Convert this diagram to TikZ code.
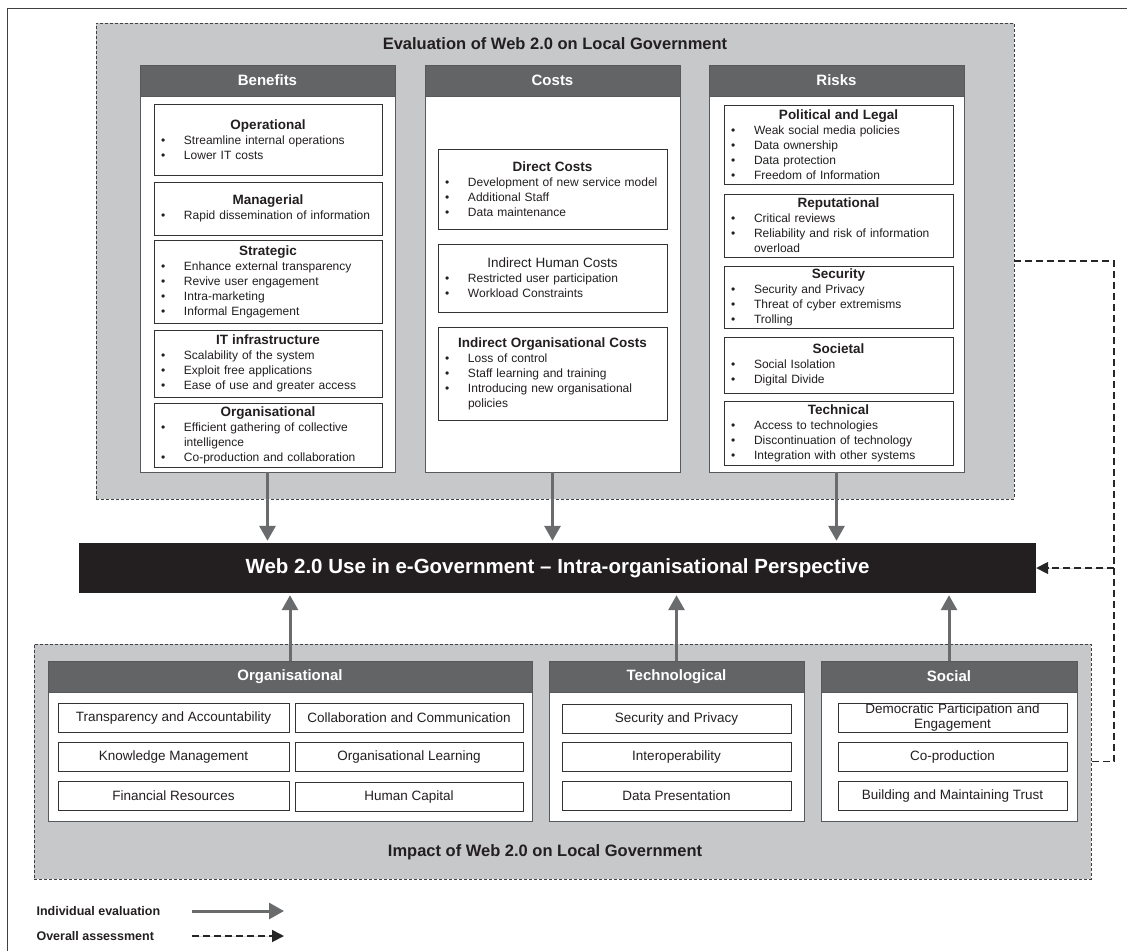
\documentclass[tikz,border=0pt]{standalone}
\usepackage{fontspec}
\setmainfont{Liberation Sans}
\usetikzlibrary{arrows.meta}

\definecolor{regiongray}{HTML}{C7C8CA}
\definecolor{headgray}{HTML}{636466}
\definecolor{colborder}{HTML}{58595B}
\definecolor{arrowgray}{HTML}{6A6B6D}
\definecolor{barblack}{HTML}{231F20}
\definecolor{inkgray}{HTML}{231F20}

% bullet lines inside the sub-boxes
\newcommand{\itm}[1]{\makebox[\hsize][l]{\makebox[30pt][l]{\hspace{7pt}\textbullet}#1}}
\newcommand{\cnt}[1]{\makebox[\hsize][l]{\hspace{30pt}#1}}
\newcommand{\ttl}[1]{{\fontsize{13.5}{15}\selectfont\bfseries #1}}

\tikzset{
  region/.style={draw=black!75, densely dashed, line width=0.6pt, fill=regiongray, inner sep=0pt},
  column/.style={draw=colborder, line width=0.9pt, fill=white, inner sep=0pt},
  colhead/.style={draw=colborder, line width=0.9pt, fill=headgray, text=white, inner sep=0pt,
    anchor=north, minimum height=31pt, font=\fontsize{15}{18}\selectfont\bfseries},
  subbox/.style={draw=black!80, line width=0.7pt, fill=white, inner sep=0pt, align=center,
    text=inkgray, font=\fontsize{12}{15}\selectfont},
  itembox/.style={draw=black!80, line width=0.7pt, fill=white, inner sep=0pt, align=center,
    text=inkgray, minimum height=29pt, font=\fontsize{13.5}{15.5}\selectfont},
  indiv/.style={draw=arrowgray, line width=3pt, -{Triangle[length=15pt,width=16pt]}, fill=arrowgray},
  overall/.style={draw=black!85, line width=1.7pt, dash pattern=on 7pt off 4pt},
}

\begin{document}
\begin{tikzpicture}[x=1pt, y=-1pt]
  \useasboundingbox (0,0) rectangle (1127,951);

  % --- frame ---
  \draw[black!75, line width=0.8pt] (7,951) -- (7,8) -- (1127,8);

  % --- evaluation region ---
  \node[region, minimum width=918pt, minimum height=476pt] (evalreg) at (555,261) {};
  \node[font=\fontsize{16.5}{20}\selectfont\bfseries, text=inkgray] (evaltitle) at (555,44)
    {Evaluation of Web 2.0 on Local Government};

  \node[column, minimum width=255pt, minimum height=407pt] (benefits) at (267.5,268.5) {};
  \node[colhead, minimum width=255pt] (benhead) at (benefits.north) {Benefits};
  \node[column, minimum width=255pt, minimum height=407pt] (costs) at (552.5,268.5) {};
  \node[colhead, minimum width=255pt] (costhead) at (costs.north) {Costs};
  \node[column, minimum width=255pt, minimum height=407pt] (risks) at (836.5,268.5) {};
  \node[colhead, minimum width=255pt] (riskhead) at (risks.north) {Risks};

  % Benefits
  \node[subbox, text width=228pt, minimum height=71pt] (ben1) at (268,139.5)
    {\ttl{Operational}\\ \itm{Streamline internal operations}\\ \itm{Lower IT costs}};
  \node[subbox, text width=228pt, minimum height=53pt] (ben2) at (268,208.5)
    {\ttl{Managerial}\\ \itm{Rapid dissemination of information}};
  \node[subbox, text width=228pt, minimum height=83pt] (ben3) at (268,281.5)
    {\ttl{Strategic}\\ \itm{Enhance external transparency}\\ \itm{Revive user engagement}\\
     \itm{Intra-marketing}\\ \itm{Informal Engagement}};
  \node[subbox, text width=228pt, minimum height=67pt] (ben4) at (268,363.5)
    {\ttl{IT infrastructure}\\ \itm{Scalability of the system}\\ \itm{Exploit free applications}\\
     \itm{Ease of use and greater access}};
  \node[subbox, text width=228pt, minimum height=64pt] (ben5) at (268,435)
    {\ttl{Organisational}\\ \itm{Efficient gathering of collective}\\ \cnt{intelligence}\\
     \itm{Co-production and collaboration}};

  % Costs
  \node[subbox, text width=229pt, minimum height=80pt] (cost1) at (552.5,189)
    {\ttl{Direct Costs}\\ \itm{Development of new service model}\\ \itm{Additional Staff}\\
     \itm{Data maintenance}};
  \node[subbox, text width=229pt, minimum height=68pt] (cost2) at (552.5,278)
    {{\fontsize{13.5}{15}\selectfont Indirect Human Costs}\\ \itm{Restricted user participation}\\
     \itm{Workload Constraints}};
  \node[subbox, text width=229pt, minimum height=93pt] (cost3) at (552.5,373.5)
    {\ttl{Indirect Organisational Costs}\\ \itm{Loss of control}\\ \itm{Staff learning and training}\\
     \itm{Introducing new organisational}\\ \cnt{policies}};

  % Risks
  \node[subbox, text width=229pt, minimum height=79pt] (risk1) at (838.5,144.5)
    {\ttl{Political and Legal}\\ \itm{Weak social media policies}\\ \itm{Data ownership}\\
     \itm{Data protection}\\ \itm{Freedom of Information}};
  \node[subbox, text width=229pt, minimum height=63pt] (risk2) at (838.5,225.5)
    {\ttl{Reputational}\\ \itm{Critical reviews}\\ \itm{Reliability and risk of information}\\
     \cnt{overload}};
  \node[subbox, text width=229pt, minimum height=62pt] (risk3) at (838.5,297)
    {\ttl{Security}\\ \itm{Security and Privacy}\\ \itm{Threat of cyber extremisms}\\ \itm{Trolling}};
  \node[subbox, text width=229pt, minimum height=56pt] (risk4) at (838.5,365)
    {\ttl{Societal}\\ \itm{Social Isolation}\\ \itm{Digital Divide}};
  \node[subbox, text width=229pt, minimum height=64pt] (risk5) at (838.5,433)
    {\ttl{Technical}\\ \itm{Access to technologies}\\ \itm{Discontinuation of technology}\\
     \itm{Integration with other systems}};

  % --- central bar ---
  \node[fill=barblack, minimum width=957pt, minimum height=50pt, inner sep=0pt, text=white,
    font=\fontsize{20.5}{24}\selectfont\bfseries] (mainbar) at (557.5,568)
    {Web 2.0 Use in e-Government – Intra-organisational Perspective};

  % --- impact region ---
  \node[region, minimum width=1057pt, minimum height=235pt] (impactreg) at (562.5,761.5) {};
  \node[font=\fontsize{16.5}{20}\selectfont\bfseries, text=inkgray] (impacttitle) at (545,852)
    {Impact of Web 2.0 on Local Government};

  \node[column, minimum width=484pt, minimum height=160pt] (orgcol) at (290,741) {};
  \node[colhead, minimum width=484pt] (orghead) at (orgcol.north) {Organisational};
  \node[column, minimum width=255pt, minimum height=160pt] (techcol) at (676.5,741) {};
  \node[colhead, minimum width=255pt] (techhead) at (techcol.north) {Technological};
  \node[column, minimum width=256pt, minimum height=160pt] (soccol) at (949,741) {};
  \node[colhead, minimum width=256pt] (sochead) at (soccol.north) {Social};

  \node[itembox, minimum width=231pt] (org1) at (173.5,717.5) {Transparency and Accountability};
  \node[itembox, minimum width=231pt] (org2) at (173.5,757) {Knowledge Management};
  \node[itembox, minimum width=231pt] (org3) at (173.5,795.5) {Financial Resources};
  \node[itembox, minimum width=228pt] (org4) at (409,717.5) {Collaboration and Communication};
  \node[itembox, minimum width=228pt] (org5) at (409,757) {Organisational Learning};
  \node[itembox, minimum width=228pt] (org6) at (409,796.5) {Human Capital};

  \node[itembox, minimum width=229pt] (tech1) at (676.5,718.5) {Security and Privacy};
  \node[itembox, minimum width=229pt] (tech2) at (676.5,757) {Interoperability};
  \node[itembox, minimum width=229pt] (tech3) at (676.5,795.5) {Data Presentation};

  \node[itembox, minimum width=229pt, text width=229pt, font=\fontsize{13.5}{14.5}\selectfont]
    (soc1) at (952.5,717.5) {Democratic Participation and\\ Engagement};
  \node[itembox, minimum width=229pt] (soc2) at (952.5,757) {Co-production};
  \node[itembox, minimum width=229pt] (soc3) at (952.5,796) {Building and Maintaining Trust};

  % --- individual evaluation arrows ---
  \draw[indiv, shorten >=2pt] (benefits.south) -- (benefits.south |- mainbar.north);
  \draw[indiv, shorten >=2pt] (costs.south) -- (costs.south |- mainbar.north);
  \draw[indiv, shorten >=2pt] (risks.south) -- (risks.south |- mainbar.north);
  \draw[indiv, shorten >=2pt] (orghead.north) -- (orghead.north |- mainbar.south);
  \draw[indiv, shorten >=2pt] (techhead.north) -- (techhead.north |- mainbar.south);
  \draw[indiv, shorten >=2pt] (sochead.north) -- (sochead.north |- mainbar.south);

  % --- overall assessment ---
  \draw[overall] (evalreg.east) -- ++(100,0) coordinate (turn) |- (impactreg.east);
  \draw[overall, -{Triangle[length=12pt,width=12pt]}, fill=black] (turn |- mainbar.east) -- (mainbar.east);

  % --- legend ---
  \node[anchor=west, font=\fontsize{12.5}{15}\selectfont\bfseries, text=inkgray] (legind) at (33,911)
    {Individual evaluation};
  \node[anchor=west, font=\fontsize{12.5}{15}\selectfont\bfseries, text=inkgray] (legall) at (33,936)
    {Overall assessment};
  \coordinate (indA) at (192,911);
  \coordinate (indB) at (284,911);
  \coordinate (allA) at (192,936);
  \coordinate (allB) at (284,936);
  \draw[indiv] (indA) -- (indB);
  \draw[overall, -{Triangle[length=12pt,width=12pt]}, fill=black] (allA) -- (allB);

\end{tikzpicture}
\end{document}
